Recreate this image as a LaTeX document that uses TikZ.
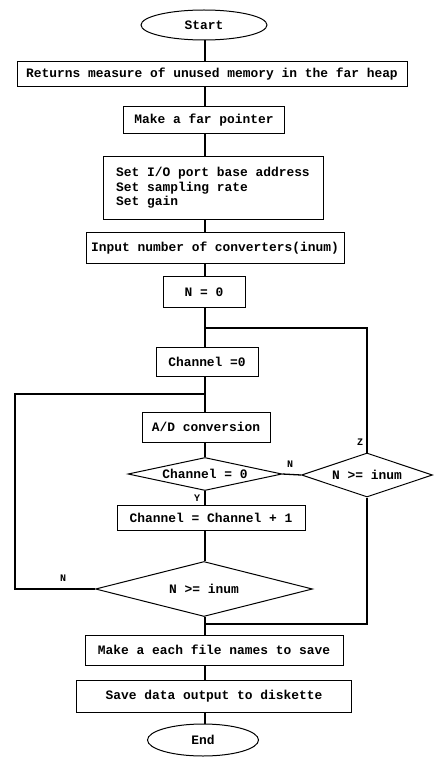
\documentclass[tikz,border=0pt]{standalone}
\usepackage{fontspec}
\setmonofont{Liberation Mono}
\usepackage{tikz}
\usetikzlibrary{shapes.geometric}
\tikzstyle{blk}=[rectangle, draw, line width=1pt, inner sep=0pt,% a plain box
font=\ttfamily\bfseries\fontsize{12.9}{14.5}\selectfont]
\tikzstyle{term}=[ellipse, draw, line width=1pt, inner sep=0pt,
font=\ttfamily\bfseries\fontsize{12.9}{14.5}\selectfont]
\tikzstyle{test}=[diamond, draw, line width=1pt, inner sep=0pt,
font=\ttfamily\bfseries\fontsize{12.9}{14.5}\selectfont]
\tikzstyle{lbl}=[inner sep=0pt, font=\ttfamily\bfseries\fontsize{10}{11}\selectfont]
\tikzstyle{flow}=[line width=1.3pt]

\begin{document}
\begin{tikzpicture}[x=1pt, y=-1pt, flow]
\useasboundingbox (0,0) rectangle (435,757);
\coordinate (axis) at (205,0);
% main column
\node[term, minimum width=126pt, minimum height=30pt] (start) at (204,25) {Start};
\node[blk, minimum width=390pt, minimum height=25pt] (ret) at (212,74) {Returns measure of unused memory in the far heap};
\node[blk, minimum width=161pt, minimum height=26pt] (ptr) at (204,120) {Make a far pointer};
\node[blk, minimum width=220pt, minimum height=63pt, align=left] (setup) at (213,188) {Set I/O port base address\\Set sampling rate\\Set gain};
\node[blk, minimum width=258pt, minimum height=31pt] (inum) at (215,248) {Input number of converters(inum)};
\node[blk, minimum width=82pt, minimum height=31pt] (nzero) at (204,292) {N = 0};
\node[blk, minimum width=102pt, minimum height=29pt] (chzero) at (207,362) {Channel =0};
\node[blk, minimum width=128pt, minimum height=30pt] (adconv) at (206,427) {A/D conversion};
\node[test, minimum width=154pt, minimum height=33pt, shape aspect=4.6] (chtest) at (205,474) {Channel = 0};
\node[test, minimum width=131pt, minimum height=44pt, shape aspect=3] (ntest) at (367,475) {N >= inum};
\node[blk, minimum width=188pt, minimum height=25pt] (chinc) at (211,518) {Channel = Channel + 1};
\node[test, minimum width=217pt, minimum height=55pt, shape aspect=3.9] (nloop) at (204,589) {N >= inum};
\node[blk, minimum width=258pt, minimum height=30pt] (fname) at (214,650) {Make a each file names to save};
\node[blk, minimum width=275pt, minimum height=32pt] (save) at (214,696) {Save data output to diskette};
\node[term, minimum width=111pt, minimum height=32pt] (stop) at (203,740) {End};
% labels
\node[lbl] (ln1) at (290,464) {N};
\node[lbl] (lz) at (360,442) {Z};
\node[lbl] (ly) at (197,498) {Y};
\node[lbl] (ln2) at (63,578) {N};
% joins
\coordinate (jA) at (205,328);
\coordinate (jB) at (205,394);
\coordinate (jC) at (205,624);
\coordinate (cL) at (15,394);
\foreach \a/\b in {start/ret, ret/ptr, ptr/setup, setup/inum, inum/nzero, nzero/chzero,
  chzero/adconv, adconv/chtest, chtest/chinc, chinc/nloop, nloop/fname, fname/save, save/stop}
  \draw (axis |- \a.south) -- (axis |- \b.north);
\draw (chtest.east) -- (ntest.west);
\draw (ntest.north) |- (jA);
\draw (ntest.south) |- (jC);
\draw (nloop.west) -| (cL) -- (jB);
\end{tikzpicture}
\end{document}
